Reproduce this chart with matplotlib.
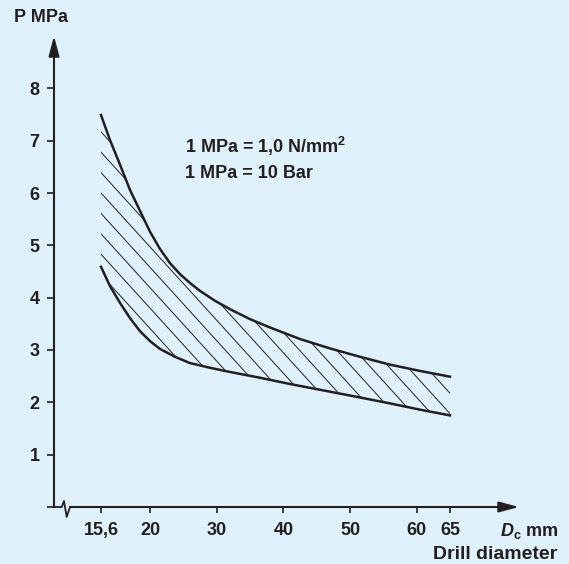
import numpy as np
import matplotlib.pyplot as plt
from matplotlib.patches import Polygon
from matplotlib.collections import LineCollection
from matplotlib.transforms import IdentityTransform

plt.rcParams['font.family'] = ['Liberation Sans', 'DejaVu Sans']
plt.rcParams['font.weight'] = 'bold'
plt.rcParams['mathtext.fontset'] = 'custom'
plt.rcParams['mathtext.bf'] = 'Liberation Sans:bold'
plt.rcParams['mathtext.bfit'] = 'Liberation Sans:bold:italic'
plt.rcParams['mathtext.rm'] = 'Liberation Sans'

BG = '#dff1fa'
INK = '#231f20'

# pressure band (MPa) vs drill diameter (mm)
d_upper = [15.6, 16.41, 17.31, 18.2, 19.1, 20, 21.5, 23, 24.5, 26, 27.5, 29.75,
           32, 35, 38, 42.5, 47, 51.5, 56, 60.5, 65]
p_upper = [7.49, 7.01, 6.54, 6.06, 5.66, 5.26, 4.93, 4.66, 4.45, 4.28, 4.13, 3.94,
           3.78, 3.59, 3.43, 3.21, 3.03, 2.87, 2.72, 2.60, 2.49]
d_lower = [15.6, 16.41, 17.31, 18.2, 19.1, 20, 21.5, 23.75, 26, 29, 32, 36.5,
           41, 45.5, 50, 56, 60.5, 65]
p_lower = [4.59, 4.22, 3.90, 3.61, 3.36, 3.17, 3.02, 2.87, 2.75, 2.66, 2.58, 2.47,
           2.35, 2.24, 2.13, 1.98, 1.86, 1.75]

x_ticks = [15.6, 20, 30, 40, 50, 60, 65]
x_ticklabels = ['15,6', '20', '30', '40', '50', '60', '65']
y_ticks = [0, 1, 2, 3, 4, 5, 6, 7, 8]
y_ticklabels = ['', '1', '2', '3', '4', '5', '6', '7', '8']

# broken axis: the part below 20 mm is stretched
K = 7.35 / 4.4


def fwd(d):
    d = np.asarray(d, float)
    return np.where(d >= 20, d, 20 - (20 - d) * K)


def inv(m):
    m = np.asarray(m, float)
    return np.where(m >= 20, m, 20 - (20 - m) / K)


fig = plt.figure(figsize=(5.69, 5.64), dpi=100, facecolor=BG)
ax = fig.add_axes([54 / 569, 57 / 564, 465 / 569, 471 / 564])
ax.set_facecolor(BG)
ax.set_xscale('function', functions=(fwd, inv))
ax.set_xlim(float(inv(5.6)), 75.35)
ax.set_ylim(0, 9.0)
for s in ax.spines.values():
    s.set_visible(False)

ax.plot(d_upper, p_upper, color=INK, lw=1.8)
ax.plot(d_lower, p_lower, color=INK, lw=1.8)

# hatching between the curves
verts = list(zip(d_upper, p_upper)) + list(zip(d_lower[::-1], p_lower[::-1]))
band = Polygon(verts, closed=True, facecolor='none', edgecolor='none',
               transform=ax.transData)
ax.add_patch(band)
k = 1.1
step = 20.4
c0 = (564 - 130.7) + k * 100
segs = []
for n in range(-40, 40):
    c = c0 + n * step
    segs.append([(40, c - k * 40), (560, c - k * 560)])
lc = LineCollection(segs, colors=INK, linewidths=0.7, transform=IdentityTransform())
ax.add_collection(lc, autolim=False)
lc.set_clip_path(band)

# axes with arrows
arrow = dict(arrowstyle='-|>,head_length=0.6,head_width=0.16', color=INK, lw=1.5,
             shrinkA=0, shrinkB=0, mutation_scale=20)
ax.annotate('', xy=(0, 1), xytext=(0, 0), xycoords='axes fraction',
            arrowprops=arrow, annotation_clip=False)
ax.annotate('', xy=(1, 0), xytext=(0.0344, 0), xycoords='axes fraction',
            arrowprops=arrow, annotation_clip=False)
ax.plot([0, 0.0166, 0.0215, 0.0273, 0.0344], [0, 0, 0.0127, -0.0212, 0],
        transform=ax.transAxes, clip_on=False, lw=1.3, color=INK)

ax.set_xticks(x_ticks)
ax.set_xticklabels(x_ticklabels)
ax.set_yticks(y_ticks)
ax.set_yticklabels(y_ticklabels)
ax.minorticks_off()
ax.tick_params(axis='x', direction='out', length=4.5, width=1.2, pad=6.5,
               labelsize=13, colors=INK)
ax.tick_params(axis='y', direction='out', length=5, width=1.2, pad=5.5,
               labelsize=13, colors=INK)

fig.text(14 / 569, 1 - 18 / 564, 'P MPa', ha='left', va='center', fontsize=13, color=INK)
fig.text(185 / 569, 1 - 146.7 / 564, r'1 MPa = 1,0 N/mm$^\mathbf{2}$', ha='left',
         va='center', fontsize=13, color=INK)
fig.text(185 / 569, 1 - 173.3 / 564, '1 MPa = 10 Bar', ha='left', va='center',
         fontsize=13, color=INK)
fig.text(559 / 569, 1 - 536 / 564, r'$\mathbfit{D}_\mathbf{c}$ mm', ha='right',
         va='baseline', fontsize=13, color=INK)
fig.text(557 / 569, 1 - 563 / 564, 'Drill diameter', ha='right', va='bottom',
         fontsize=14, color=INK)

fig.savefig('out.png', dpi=100, facecolor=BG)
